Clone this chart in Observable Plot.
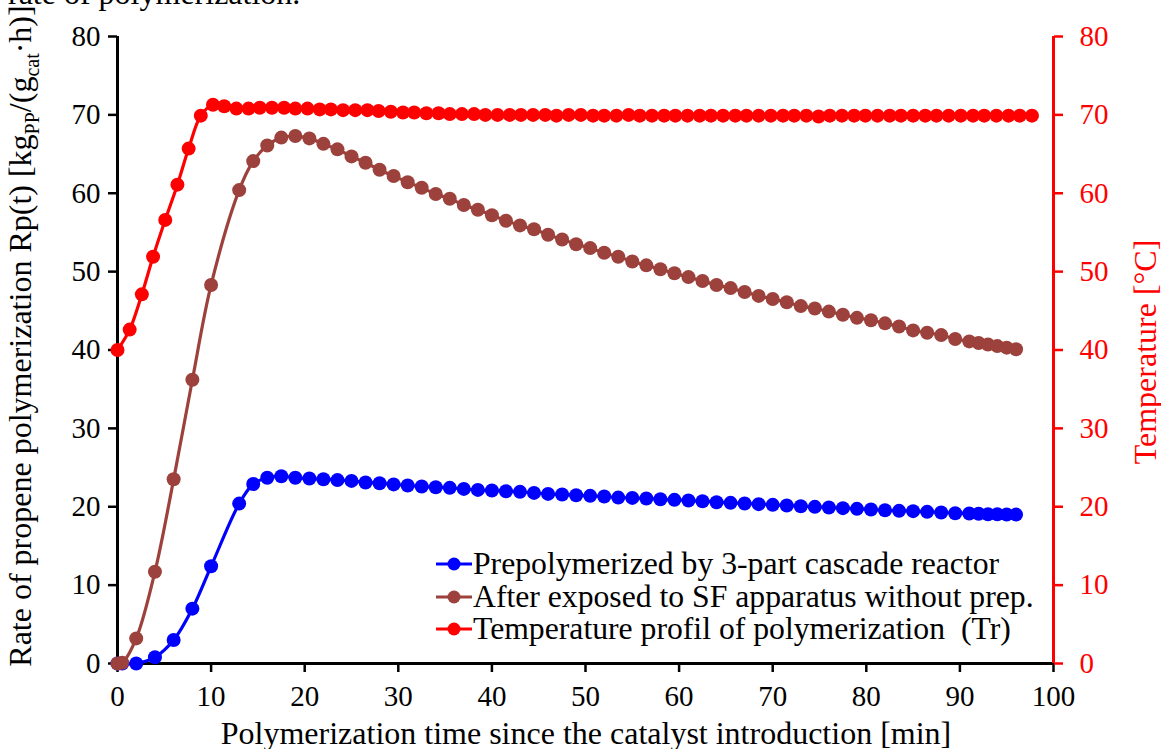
<!DOCTYPE html>
<html>
<head>
<meta charset="utf-8">
<script src="https://cdn.jsdelivr.net/npm/d3@7"></script>
<script src="https://cdn.jsdelivr.net/npm/@observablehq/plot@0.6"></script>
<style>
  body { margin: 0; background: white; }
  #wrap { position: relative; width: 1161px; height: 749px; overflow: hidden; font-family: "Liberation Serif", serif; color: black; background: white; }
  #chart { position: absolute; left: 0; top: 0; }
  .frag { position: absolute; left: 8px; top: -23px; font-size: 32px; line-height: 32px; white-space: nowrap; z-index: 1; }
  .ylab { position: absolute; white-space: nowrap; font-size: 32px; transform: translate(-50%, -50%) rotate(-90deg); z-index: 2; }
  .ylab sub { font-size: 20px; }
  .xlab { position: absolute; white-space: nowrap; font-size: 32px; transform: translate(-50%, -50%); z-index: 2; }
  #legend { position: absolute; left: 436px; top: 548px; font-size: 31.7px; line-height: 32.5px; z-index: 2; }
  #legend div { display: flex; align-items: center; white-space: nowrap; }
  #legend svg { margin-right: 1px; }
</style>
</head>
<body>
<div id="wrap">
  <div id="chart"></div>
  <div class="frag">rate of polymerization.</div>
  <div class="ylab" style="left:23px; top:336px;">Rate of propene polymerization Rp(t) [kg<sub>PP</sub>/(g<sub>cat</sub>·h)]</div>
  <div class="ylab" style="left:1145px; top:352px; color:#ff0000;">Temperature [°C]</div>
  <div class="xlab" style="left:586px; top:733px;">Polymerization time since the catalyst introduction [min]</div>
  <div id="legend"></div>
</div>
<script>
// ---- data ----
const seriesNames = [
  "Prepolymerized by 3-part cascade reactor",
  "After exposed to SF apparatus without prep.",
  "Temperature profil of polymerization  (Tr)"
];
const seriesColors = ["#0000ff", "#9c413c", "#ff0000"];

// sampling times (min) for rate curves
const rateTime = [0, 0.5, 2, 4, 6, 8, 10, 13, 14.5, 16, 17.5, 19, 20.5, 22, 23.5, 25, 26.5, 28, 29.5,
  31, 32.5, 34, 35.5, 37, 38.5, 40, 41.5, 43, 44.5, 46, 47.5, 49, 50.5, 52, 53.5, 55, 56.5, 58, 59.5,
  61, 62.5, 64, 65.5, 67, 68.5, 70, 71.5, 73, 74.5, 76, 77.5, 79, 80.5, 82, 83.5, 85, 86.5, 88, 89.5,
  91, 92, 93, 94, 95, 96];

// Prepolymerized by 3-part cascade reactor
const rateBlue = [0, 0, 0, 0.8, 3.0, 7.0, 12.4, 20.4, 22.9, 23.7, 23.9, 23.7, 23.6, 23.5, 23.4, 23.3, 23.1, 23.0, 22.85,
  22.71, 22.58, 22.49, 22.41, 22.28, 22.15, 22.07, 21.98, 21.90, 21.77, 21.64, 21.56, 21.47, 21.39, 21.30, 21.17, 21.13, 21.05, 20.96, 20.88,
  20.79, 20.71, 20.58, 20.50, 20.41, 20.33, 20.24, 20.16, 20.07, 19.99, 19.90, 19.82, 19.73, 19.65, 19.56, 19.48, 19.44, 19.35, 19.27, 19.18,
  19.14, 19.10, 19.05, 19.05, 19.01, 19.0];

// After exposed to SF apparatus without prep.
const rateBrown = [0, 0.1, 3.2, 11.7, 23.5, 36.2, 48.3, 60.4, 64.1, 66.1, 67.1, 67.3, 67.0, 66.3, 65.6, 64.7, 63.9, 63.0, 62.2,
  61.4, 60.7, 59.9, 59.3, 58.5, 57.9, 57.2, 56.5, 55.9, 55.4, 54.7, 54.1, 53.5, 53.0, 52.4, 51.9, 51.3, 50.8, 50.3, 49.8,
  49.3, 48.8, 48.3, 47.9, 47.4, 46.9, 46.5, 46.1, 45.6, 45.3, 44.9, 44.5, 44.1, 43.8, 43.4, 43.0, 42.5, 42.2, 41.9, 41.4,
  41.1, 40.9, 40.7, 40.5, 40.3, 40.1];

// Temperature profile (°C)
const tempTime = [0, 1.3, 2.6, 3.8, 5.1, 6.4, 7.6, 8.9, 10.2, 11.4, 12.7, 14.0, 15.2, 16.5, 17.8, 19.0, 20.3, 21.6, 22.8, 24.1,
  25.4, 26.7, 27.9, 29.2, 30.5, 31.7, 33.0, 34.3, 35.5, 36.8, 38.1, 39.3, 40.6, 41.9, 43.1, 44.4, 45.7, 46.9, 48.2, 49.5,
  50.8, 52.0, 53.3, 54.6, 55.8, 57.1, 58.4, 59.6, 60.9, 62.2, 63.4, 64.7, 66.0, 67.2, 68.5, 69.8, 71.1, 72.3, 73.6, 74.9,
  76.1, 77.4, 78.7, 79.9, 81.2, 82.5, 83.7, 85.0, 86.3, 87.5, 88.8, 90.1, 91.4, 92.6, 93.9, 95.2, 96.4, 97.7];
const tempValue = [40.0, 42.6, 47.1, 51.9, 56.6, 61.1, 65.7, 69.9, 71.3, 71.1, 70.8, 70.8, 70.9, 70.9, 70.9, 70.8, 70.8, 70.7, 70.7, 70.6,
  70.6, 70.6, 70.5, 70.4, 70.3, 70.3, 70.2, 70.2, 70.1, 70.1, 70.1, 70.0, 70.0, 70.0, 70.0, 70.0, 70.0, 69.9, 70.0, 70.0,
  69.9, 69.9, 69.9, 70.0, 69.9, 69.9, 69.9, 69.9, 69.9, 69.9, 69.9, 69.9, 69.9, 69.9, 69.9, 69.9, 69.9, 69.9, 69.9, 69.8,
  69.9, 69.9, 69.9, 69.9, 69.9, 69.9, 69.9, 69.9, 69.9, 69.9, 69.9, 69.9, 69.9, 69.9, 69.9, 69.9, 69.9, 69.9];

const xTicks = [0, 10, 20, 30, 40, 50, 60, 70, 80, 90, 100];
const yTicks = [0, 10, 20, 30, 40, 50, 60, 70, 80];

// ---- build tables ----
const blue = rateTime.map((t, i) => ({t, v: rateBlue[i]}));
const brown = rateTime.map((t, i) => ({t, v: rateBrown[i]}));
const red = tempTime.map((t, i) => ({t, v: tempValue[i]}));

const series = [blue, brown, red];
const marks = [];
series.forEach((data, i) => {
  marks.push(Plot.line(data, {x: "t", y: "v", stroke: seriesColors[i], strokeWidth: 3.2, curve: "catmull-rom"}));
  marks.push(Plot.dot(data, {x: "t", y: "v", fill: seriesColors[i], r: 7, stroke: "none"}));
});

const chart = Plot.plot({
  width: 1161,
  height: 749,
  marginLeft: 117,
  marginRight: 108,
  marginTop: 36,
  marginBottom: 86,
  style: {fontFamily: "Liberation Serif, serif", fontSize: "29px", background: "white", overflow: "visible"},
  x: {domain: [0, 100]},
  y: {domain: [0, 80]},
  marks: [
    Plot.axisX({ticks: xTicks, tickSize: 9, tickPadding: 13, strokeWidth: 2.5, fontSize: 29, label: null, tickFormat: d => String(d)}),
    Plot.axisY({anchor: "left", ticks: yTicks, tickSize: 9, tickPadding: 8, strokeWidth: 2.5, fontSize: 29, label: null, tickFormat: d => String(d)}),
    Plot.axisY({anchor: "right", ticks: yTicks, tickSize: 9, tickPadding: 17, strokeWidth: 2.5, fontSize: 29, color: "#ff0000", label: null, tickFormat: d => String(d)}),
    Plot.ruleY([0], {stroke: "black", strokeWidth: 3}),
    Plot.ruleX([0], {stroke: "black", strokeWidth: 3}),
    Plot.ruleX([100], {stroke: "#ff0000", strokeWidth: 3}),
    ...marks
  ]
});
document.getElementById("chart").appendChild(chart);

// ---- legend ----
const legend = document.getElementById("legend");
seriesNames.forEach((name, i) => {
  const row = document.createElement("div");
  row.innerHTML = `<svg width="36" height="20"><line x1="0" y1="10" x2="36" y2="10" stroke="${seriesColors[i]}" stroke-width="3"/><circle cx="18" cy="10" r="6.5" fill="${seriesColors[i]}"/></svg><span>${name.replace(/  /g, "&nbsp; ")}</span>`;
  legend.appendChild(row);
});
</script>
</body>
</html>
